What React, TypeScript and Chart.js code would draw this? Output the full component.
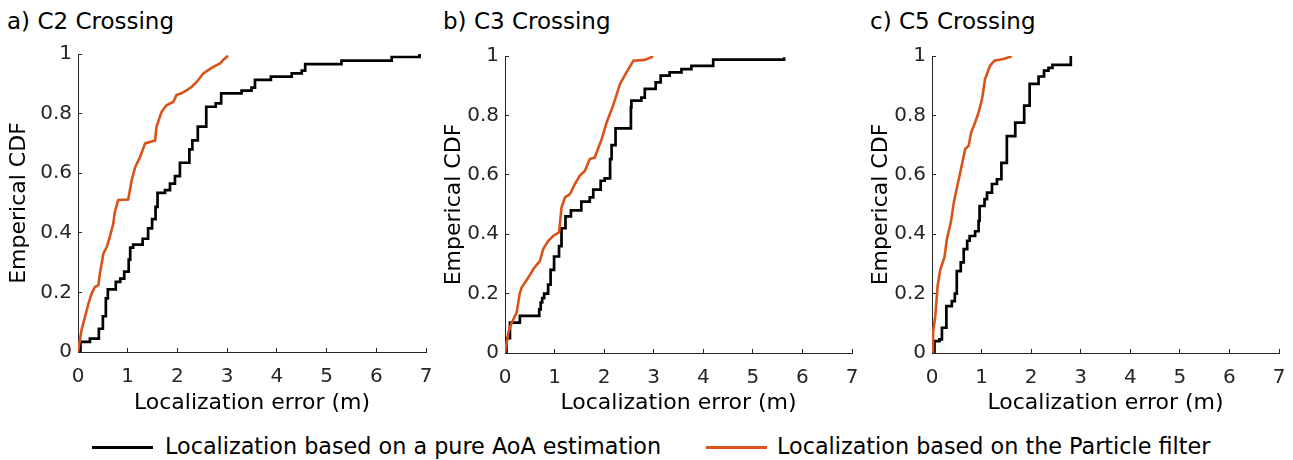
import React, { useEffect, useRef } from "react";
import { Chart, registerables } from "chart.js";

Chart.register(...registerables);

const panelTitles = ["a) C2 Crossing", "b) C3 Crossing", "c) C5 Crossing"];
const seriesNames = [
  "Localization based on a pure AoA estimation",
  "Localization based on the Particle filter",
];
const xTickLabels = ["0", "1", "2", "3", "4", "5", "6", "7"];
const yTickLabels = ["0", "0.2", "0.4", "0.6", "0.8", "1"];
const xAxisTitle = "Localization error (m)";
const yAxisTitle = "Emperical CDF";

// Panel a) C2 — pure AoA (step points: x, CDF after jump)
const aoaC2X = [0, 0.05, 0.24, 0.42, 0.5, 0.56, 0.6, 0.76, 0.85, 0.93, 1.02, 1.05, 1.11, 1.3, 1.41, 1.49, 1.56, 1.6, 1.75, 1.85, 1.95, 2.05, 2.24, 2.3, 2.41, 2.58, 2.77, 2.88, 3.29, 3.49, 3.56, 3.88, 4.3, 4.5, 4.57, 5.3, 6.31, 6.87];
const aoaC2Y = [0, 0.034, 0.045, 0.078, 0.12, 0.18, 0.21, 0.235, 0.246, 0.27, 0.31, 0.35, 0.36, 0.38, 0.415, 0.446, 0.487, 0.534, 0.543, 0.565, 0.59, 0.635, 0.68, 0.71, 0.756, 0.823, 0.834, 0.868, 0.877, 0.887, 0.913, 0.924, 0.935, 0.944, 0.966, 0.978, 0.99, 1.0];
// Panel a) C2 — particle filter
const pfC2X = [0, 0.07, 0.14, 0.21, 0.275, 0.34, 0.41, 0.44, 0.51, 0.58, 0.64, 0.71, 0.74, 0.81, 1.01, 1.08, 1.15, 1.25, 1.35, 1.55, 1.58, 1.68, 1.78, 1.92, 1.98, 2.08, 2.19, 2.29, 2.39, 2.52, 2.62, 2.72, 2.86, 2.92, 3.02];
const pfC2Y = [0, 0.073, 0.118, 0.162, 0.196, 0.218, 0.224, 0.263, 0.33, 0.353, 0.386, 0.431, 0.47, 0.51, 0.512, 0.577, 0.62, 0.655, 0.7, 0.71, 0.756, 0.806, 0.828, 0.84, 0.862, 0.868, 0.879, 0.89, 0.907, 0.935, 0.946, 0.957, 0.968, 0.98, 0.994];

// Panel b) C3 — pure AoA
const aoaC3X = [0, 0.03, 0.1, 0.3, 0.69, 0.72, 0.75, 0.79, 0.87, 0.92, 0.99, 1.09, 1.14, 1.22, 1.33, 1.54, 1.71, 1.78, 1.93, 2.01, 2.12, 2.15, 2.23, 2.54, 2.55, 2.75, 2.82, 3.04, 3.14, 3.32, 3.56, 3.76, 4.2, 5.63];
const aoaC3Y = [0, 0.05, 0.102, 0.125, 0.147, 0.17, 0.185, 0.2, 0.23, 0.28, 0.325, 0.36, 0.42, 0.46, 0.48, 0.51, 0.524, 0.55, 0.58, 0.588, 0.653, 0.7, 0.756, 0.827, 0.85, 0.86, 0.889, 0.911, 0.934, 0.945, 0.956, 0.967, 0.988, 0.996];
// Panel b) C3 — particle filter
const pfC3X = [0, 0.067, 0.13, 0.235, 0.3, 0.336, 0.47, 0.57, 0.705, 0.77, 0.87, 0.97, 1.09, 1.14, 1.21, 1.31, 1.41, 1.51, 1.61, 1.71, 1.81, 1.95, 2.05, 2.18, 2.32, 2.45, 2.59, 2.82, 2.99];
const pfC3Y = [0, 0.069, 0.1, 0.136, 0.203, 0.22, 0.254, 0.282, 0.31, 0.35, 0.377, 0.394, 0.406, 0.49, 0.524, 0.535, 0.569, 0.597, 0.613, 0.653, 0.658, 0.72, 0.776, 0.833, 0.906, 0.945, 0.984, 0.987, 0.999];

// Panel c) C5 — pure AoA
const aoaC5X = [0, 0.05, 0.15, 0.2, 0.29, 0.4, 0.46, 0.5, 0.58, 0.64, 0.71, 0.76, 0.87, 0.94, 0.96, 1.06, 1.11, 1.21, 1.31, 1.4, 1.51, 1.68, 1.86, 1.97, 2.15, 2.26, 2.35, 2.43, 2.8];
const aoaC5Y = [0, 0.04, 0.046, 0.085, 0.158, 0.175, 0.2, 0.276, 0.305, 0.35, 0.378, 0.394, 0.41, 0.445, 0.495, 0.518, 0.54, 0.569, 0.585, 0.64, 0.73, 0.776, 0.833, 0.906, 0.931, 0.951, 0.96, 0.97, 1.0];
// Panel c) C5 — particle filter
const pfC5X = [0, 0.02, 0.067, 0.114, 0.168, 0.25, 0.3, 0.38, 0.44, 0.49, 0.57, 0.67, 0.74, 0.79, 0.87, 0.94, 1.01, 1.07, 1.17, 1.26, 1.44, 1.61];
const pfC5Y = [0, 0.069, 0.125, 0.226, 0.282, 0.321, 0.383, 0.44, 0.507, 0.546, 0.608, 0.687, 0.698, 0.743, 0.776, 0.81, 0.855, 0.922, 0.967, 0.984, 0.99, 0.999];

const AOA_COLOR = "#000000";
const PF_COLOR = "#D95319";
const AXIS_COLOR = "#262626";
const FONT = "'DejaVu Sans', sans-serif";

type PanelCfg = {
  title: string;
  aoaX: number[];
  aoaY: number[];
  pfX: number[];
  pfY: number[];
  left: number;
  width: number;
  yAxisWidth: number;
  top: number;
  xAxisHeight: number;
  rightPad: number;
  yTitlePad: number;
  titleLeft: number;
};

const panels: PanelCfg[] = [
  { title: panelTitles[0], aoaX: aoaC2X, aoaY: aoaC2Y, pfX: pfC2X, pfY: pfC2Y, left: 0, width: 440, yAxisWidth: 78, top: 54, xAxisHeight: 68, rightPad: 14, yTitlePad: 6, titleLeft: 7 },
  { title: panelTitles[1], aoaX: aoaC3X, aoaY: aoaC3Y, pfX: pfC3X, pfY: pfC3Y, left: 430, width: 440, yAxisWidth: 75, top: 56, xAxisHeight: 67, rightPad: 18, yTitlePad: 11, titleLeft: 443 },
  { title: panelTitles[2], aoaX: aoaC5X, aoaY: aoaC5Y, pfX: pfC5X, pfY: pfC5Y, left: 855, width: 438, yAxisWidth: 77, top: 56, xAxisHeight: 67, rightPad: 14, yTitlePad: 13, titleLeft: 870 },
];

const CANVAS_H = 420;

function Panel({ cfg }: { cfg: PanelCfg }) {
  const ref = useRef<HTMLCanvasElement | null>(null);
  useEffect(() => {
    if (!ref.current) return;
    const aoa = cfg.aoaX.map((x, i) => ({ x, y: cfg.aoaY[i] }));
    const pf = cfg.pfX.map((x, i) => ({ x, y: cfg.pfY[i] }));
    const chart = new Chart(ref.current, {
      type: "line",
      data: {
        datasets: [
          {
            label: seriesNames[1],
            data: pf,
            borderColor: PF_COLOR,
            borderWidth: 2.6,
            pointRadius: 0,
            stepped: false,
            tension: 0,
            fill: false,
          },
          {
            label: seriesNames[0],
            data: aoa,
            borderColor: AOA_COLOR,
            borderWidth: 2.7,
            pointRadius: 0,
            stepped: "before",
            fill: false,
          },
        ],
      },
      options: {
        animation: false,
        responsive: false,
        maintainAspectRatio: false,
        layout: { padding: { top: cfg.top, right: cfg.rightPad, left: 0, bottom: 0 } },
        plugins: { legend: { display: false }, tooltip: { enabled: false }, title: { display: false } },
        scales: {
          x: {
            type: "linear",
            min: 0,
            max: 7,
            afterFit: (s: any) => {
              s.height = cfg.xAxisHeight;
              s.paddingLeft = 0;
              s.paddingRight = 0;
            },
            ticks: {
              stepSize: 1,
              color: AXIS_COLOR,
              font: { family: FONT, size: 20 },
              padding: 17,
              maxRotation: 0,
              callback: (v: any) => xTickLabels[Math.round(Number(v))] ?? "",
            },
            grid: { drawOnChartArea: false, drawTicks: true, tickLength: -4, color: AXIS_COLOR, lineWidth: 1 },
            border: { display: true, color: AXIS_COLOR, width: 1 },
            title: {
              display: true,
              text: xAxisTitle,
              color: "#000",
              font: { family: FONT, size: 22 },
              padding: { top: 0, bottom: 4 },
            },
          },
          y: {
            type: "linear",
            min: 0,
            max: 1,
            afterFit: (s: any) => {
              s.width = cfg.yAxisWidth;
              s.paddingTop = 0;
              s.paddingBottom = 0;
            },
            ticks: {
              stepSize: 0.2,
              color: AXIS_COLOR,
              font: { family: FONT, size: 20 },
              padding: 10,
              callback: (v: any) => yTickLabels[Math.round(Number(v) * 5)] ?? "",
            },
            grid: { drawOnChartArea: false, drawTicks: true, tickLength: -4, color: AXIS_COLOR, lineWidth: 1 },
            border: { display: true, color: AXIS_COLOR, width: 1 },
            title: {
              display: true,
              text: yAxisTitle,
              color: "#000",
              font: { family: FONT, size: 22 },
              padding: { top: cfg.yTitlePad, bottom: 0 },
            },
          },
        },
      },
    });
    return () => chart.destroy();
  }, [cfg]);
  return (
    <>
      <div
        style={{
          position: "absolute",
          left: cfg.titleLeft,
          top: 8,
          fontFamily: FONT,
          fontSize: 23,
          lineHeight: "27px",
          color: "#000",
          whiteSpace: "nowrap",
        }}
      >
        {cfg.title}
      </div>
      <canvas
        ref={ref}
        width={cfg.width}
        height={CANVAS_H}
        style={{ position: "absolute", left: cfg.left, top: 0, width: cfg.width, height: CANVAS_H }}
      />
    </>
  );
}

function LegendItem({ color, text, lineLeft, textLeft }: { color: string; text: string; lineLeft: number; textLeft: number }) {
  return (
    <>
      <div style={{ position: "absolute", left: lineLeft, top: 445.5, width: 61, height: 3, background: color }} />
      <div
        style={{
          position: "absolute",
          left: textLeft,
          top: 433,
          fontFamily: FONT,
          fontSize: 22.3,
          lineHeight: "26px",
          color: "#000",
          whiteSpace: "nowrap",
        }}
      >
        {text}
      </div>
    </>
  );
}

export default function App() {
  return (
    <div style={{ position: "absolute", left: 0, top: 0, width: 1293, height: 460, background: "#fff", overflow: "hidden" }}>
      {panels.map((p, i) => (
        <Panel key={i} cfg={p} />
      ))}
      <LegendItem color={AOA_COLOR} text={seriesNames[0]} lineLeft={92} textLeft={165} />
      <LegendItem color={PF_COLOR} text={seriesNames[1]} lineLeft={706} textLeft={777} />
    </div>
  );
}
